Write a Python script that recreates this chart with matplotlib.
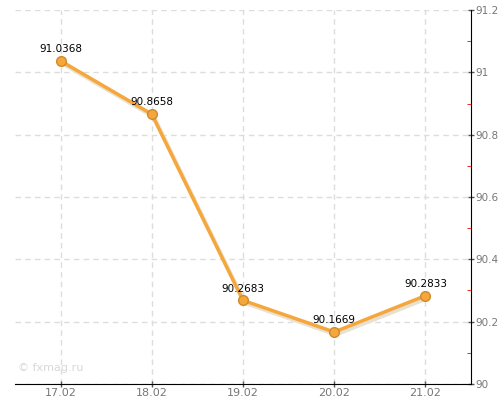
import matplotlib
matplotlib.use("Agg")
import matplotlib.pyplot as plt
from matplotlib.ticker import MultipleLocator, FuncFormatter

dates = ["17.02", "18.02", "19.02", "20.02", "21.02"]
rates = [91.0368, 90.8658, 90.2683, 90.1669, 90.2833]
labels = ["91.0368", "90.8658", "90.2683", "90.1669", "90.2833"]

fig = plt.figure(figsize=(5, 4), dpi=100)
ax = fig.add_axes([0.03, 0.04, 0.912, 0.935])

x = list(range(len(dates)))

# light shadow under the line
ax.plot([i + 0.02 for i in x], [r - 0.008 for r in rates], color="#e8e0d0",
        lw=3, zorder=2, solid_capstyle="round")
ax.plot(x, rates, color="#f5a73b", lw=2.5, zorder=3)
ax.plot(x, rates, "o", ms=7, mfc="#f5a73b", mec="#d08a2a", mew=1, zorder=4)

for i in x:
    ax.text(i, rates[i] + 0.022, labels[i], ha="center", va="bottom",
            fontsize=7.5, color="black", zorder=5)

ax.set_xlim(-0.5, 4.5)
ax.set_ylim(90, 91.2)
ax.set_xticks(x)
ax.set_xticklabels(dates)
ax.yaxis.set_major_locator(MultipleLocator(0.2))
ax.yaxis.set_minor_locator(MultipleLocator(0.1))
ax.yaxis.tick_right()
ax.yaxis.set_major_formatter(FuncFormatter(lambda v, p: "%g" % round(v, 1)))

for s in ["top", "left"]:
    ax.spines[s].set_visible(False)
ax.spines["right"].set_color("black")
ax.spines["bottom"].set_color("black")

ax.tick_params(axis="both", which="major", colors="#555555", labelcolor="#777777",
               labelsize=7.5, length=4, width=1, direction="inout")
ax.tick_params(axis="x", which="major", pad=1, labelsize=8)
ax.tick_params(axis="y", which="minor", colors="red", length=3, direction="in")
ax.tick_params(axis="y", which="major", pad=1)

ax.grid(True, which="major", color="#dddddd", ls=(0, (4, 3)), lw=1)
ax.set_axisbelow(True)

fig.text(0.036, 0.072, "© fxmag.ru", fontsize=8, color="#d8d8d8")

fig.savefig("out.png", dpi=100)
